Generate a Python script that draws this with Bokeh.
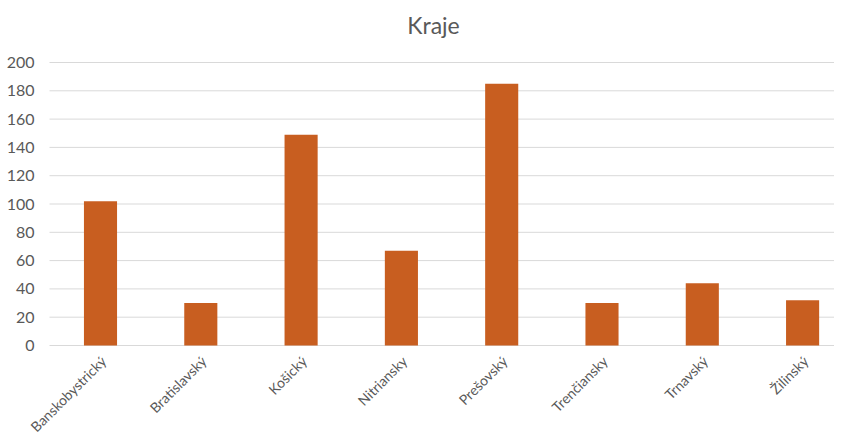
import math
from bokeh.plotting import figure
from bokeh.models import Range1d, Label, LabelSet, ColumnDataSource
from bokeh.core.properties import value
from bokeh.embed import file_html
from bokeh.resources import INLINE

categories = ["Banskobystrický", "Bratislavský", "Košický", "Nitriansky",
              "Prešovský", "Trenčiansky", "Trnavský", "Žilinský"]
values = [102, 30, 149, 67, 185, 30, 44, 32]
y_ticks = [0, 20, 40, 60, 80, 100, 120, 140, 160, 180, 200]
y_tick_labels = [str(t) for t in y_ticks]

FONT = value("Lato")
GRAY = "#595959"

# layout (pixels): figure 834x436, value axis 0..200 drawn between y=345 and y=62
W, H = 834, 436
PX_TOP, PX_ZERO = 62, 345
PX_FIRST, PX_STEP = 100, 100.3
PX_GRID_LEFT = 49
PX_YLABEL_RIGHT = 34
ymax = max(y_ticks)
ppu = (PX_ZERO - PX_TOP) / ymax
y_start = -(H - PX_ZERO) / ppu
y_end = ymax + PX_TOP / ppu
x_start = -PX_FIRST / PX_STEP
x_end = (W - PX_FIRST) / PX_STEP

xs = list(range(len(categories)))
src = ColumnDataSource(dict(x=xs, top=values, name=categories, base=[0] * len(xs)))
ysrc = ColumnDataSource(dict(y=y_ticks, label=y_tick_labels,
                             lx=[PX_YLABEL_RIGHT] * len(y_ticks),
                             gx0=[x_start + PX_GRID_LEFT / PX_STEP] * len(y_ticks),
                             gx1=[x_end] * len(y_ticks)))

p = figure(width=W, height=H, output_backend="svg", toolbar_location=None,
           x_range=Range1d(x_start, x_end), y_range=Range1d(y_start, y_end),
           x_axis_location=None, y_axis_location=None,
           min_border=0, outline_line_color=None)
p.xgrid.grid_line_color = None
p.ygrid.grid_line_color = None

# horizontal gridlines (value axis)
p.segment(x0="gx0", y0="y", x1="gx1", y1="y", source=ysrc,
          line_color="#D9D9D9", line_width=1)

p.vbar(x="x", top="top", width=0.33, color="#C85E20", line_color=None, source=src)

# value axis labels
p.add_layout(LabelSet(x="lx", y="y", text="label", source=ysrc, x_units="screen",
                      text_align="right", text_baseline="middle", text_font=FONT,
                      text_font_size="16px", text_color=GRAY))

# title
p.add_layout(Label(x=433, y=H - 24, x_units="screen", y_units="screen", text="Kraje",
                   text_font="Lato", text_font_size="23px", text_color=GRAY,
                   text_align="center", text_baseline="middle"))

# category labels (rotated)
p.add_layout(LabelSet(x="x", y="base", text="name", source=src,
                      angle=math.pi / 4, text_align="right", text_baseline="middle",
                      x_offset=3, y_offset=-13, text_font=FONT,
                      text_font_size="14px", text_color=GRAY))

open("out.html", "w").write(file_html(p, INLINE))
